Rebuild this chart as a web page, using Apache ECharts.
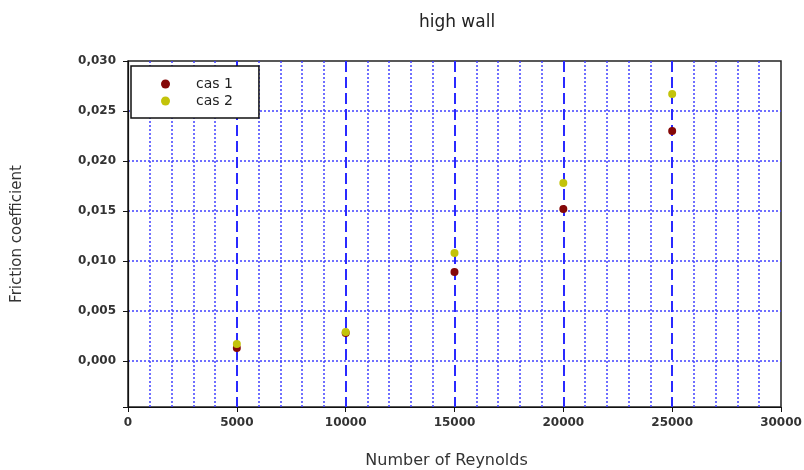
<!DOCTYPE html>
<html>
<head>
<meta charset="utf-8">
<script src="https://cdn.jsdelivr.net/npm/echarts@6/dist/echarts.min.js"></script>
<style>html,body{margin:0;padding:0;background:#fff}#c{width:804px;height:470px}</style>
</head>
<body>
<div id="c"></div>
<script>
var reynolds = [5000, 10000, 15000, 20000, 25000];
var cas1 = [0.0013, 0.0028, 0.0089, 0.0152, 0.0230];
var cas2 = [0.0017, 0.0029, 0.0108, 0.0178, 0.0267];
var seriesNames = ['cas 1', 'cas 2'];
var xTicks = ['0', '5000', '10000', '15000', '20000', '25000', '30000'];
var yTicks = ['0,000', '0,005', '0,010', '0,015', '0,020', '0,025', '0,030'];

function pairs(xs, ys) { return xs.map(function (x, i) { return [x, ys[i]]; }); }

var chart = echarts.init(document.getElementById('c'), null, { renderer: 'canvas' });
chart.setOption({
  animation: false,
  backgroundColor: '#ffffff',
  title: {
    text: 'high wall',
    left: 452, top: 9, textAlign: 'center',
    textStyle: { fontFamily: 'DejaVu Sans', fontSize: 17, fontWeight: 'normal', color: '#222' }
  },
  grid: {
    left: 128, right: 23, top: 61, bottom: 63,
    outerBoundsMode: 'none', containLabel: false,
    show: true, borderColor: '#222', borderWidth: 1.5, backgroundColor: 'transparent'
  },
  legend: {
    orient: 'vertical',
    left: 131, top: 66,
    data: seriesNames,
    icon: 'circle',
    itemWidth: 9, itemHeight: 9, itemGap: 3,
    padding: [11, 26, 10, 30],
    backgroundColor: '#fff', borderColor: '#111', borderWidth: 1.5,
    textStyle: { fontFamily: 'DejaVu Sans', fontSize: 14, color: '#222', padding: [0, 0, 0, 21] }
  },
  xAxis: {
    type: 'value', min: 0, max: 30000, interval: 5000,
    name: 'Number of Reynolds', nameLocation: 'middle', nameGap: 46,
    nameTextStyle: { fontFamily: 'DejaVu Sans', fontSize: 16, color: '#333', padding: [0, 16, 0, 0] },
    axisLine: { show: true, onZero: false, lineStyle: { color: '#111', width: 1.2 } },
    axisTick: { show: true, inside: false, length: 5, lineStyle: { color: '#111' } },
    axisLabel: {
      margin: 10, fontFamily: 'DejaVu Sans', fontSize: 12, fontWeight: 'bold', color: '#333',
      formatter: function (v) { var i = Math.round(v / 5000); return xTicks[i] !== undefined ? xTicks[i] : ''; }
    },
    splitLine: { show: true, showMinLine: false, showMaxLine: false, lineStyle: { color: '#2a2aff', width: 2, type: [11, 5] } },
    minorTick: { show: false, splitNumber: 5 },
    minorSplitLine: { show: true, lineStyle: { color: '#4040ff', width: 1.5, type: [2, 2] } }
  },
  yAxis: {
    type: 'value', min: -0.0046, max: 0.03, splitNumber: 6,
    name: 'Friction coefficient', nameLocation: 'middle', nameGap: 103, nameRotate: 90,
    nameTextStyle: { fontFamily: 'DejaVu Sans', fontSize: 15, color: '#333' },
    axisLine: { show: true, onZero: false, lineStyle: { color: '#111', width: 1.2 } },
    axisTick: { show: true, inside: false, length: 5, lineStyle: { color: '#111' } },
    axisLabel: {
      margin: 12, fontFamily: 'DejaVu Sans', fontSize: 12, fontWeight: 'bold', color: '#333',
      formatter: function (v) {
        if (v < -1e-9) return '';
        var idx = Math.round(v / 0.005);
        return yTicks[idx] !== undefined ? yTicks[idx] : '';
      }
    },
    splitLine: { show: true, showMinLine: false, showMaxLine: false, lineStyle: { color: '#4040ff', width: 1.5, type: [2, 2] } }
  },
  series: [
    {
      name: seriesNames[0], type: 'scatter', symbol: 'circle', symbolSize: 8,
      itemStyle: { color: '#850808', opacity: 1 }, data: pairs(reynolds, cas1), z: 3
    },
    {
      name: seriesNames[1], type: 'scatter', symbol: 'circle', symbolSize: 8,
      itemStyle: { color: '#c3c30a', opacity: 1 }, data: pairs(reynolds, cas2), z: 4
    }
  ]
});
</script>
</body>
</html>
